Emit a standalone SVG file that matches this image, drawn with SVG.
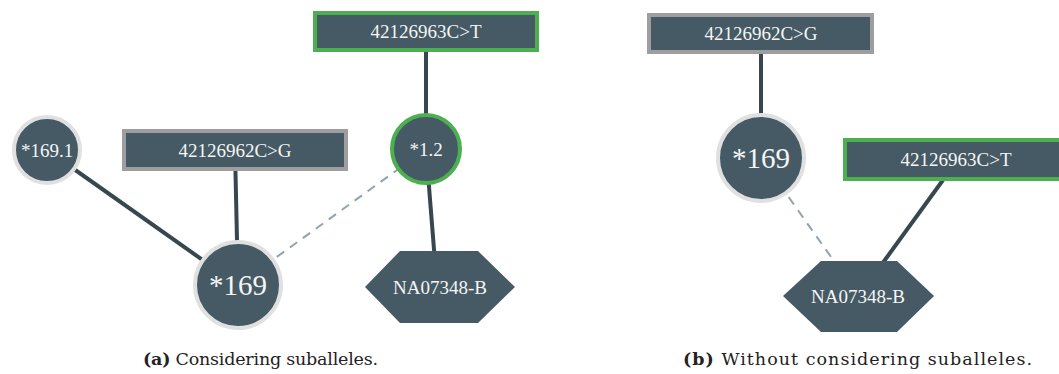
<svg xmlns="http://www.w3.org/2000/svg" width="1059" height="374" viewBox="0 0 1059 374">
<style>
.n{fill:#455a64}
.rg{stroke:#9e9e9e;stroke-width:4}
.gr{stroke:#4caf50;stroke-width:4}
.cg{stroke:#e0e0e0;stroke-width:4}
.t{fill:#f5f5f5;font-family:'Liberation Serif','Times New Roman',Times,serif;font-size:19px;text-anchor:middle;dominant-baseline:central}
.big{font-size:29px}
.e{stroke:#37474f;stroke-width:4;fill:none}
.d{stroke:#90a4ae;stroke-width:2;stroke-dasharray:9,7;fill:none}
.cap{font-family:'DejaVu Serif',serif;font-size:17.5px;fill:#222;text-anchor:middle}
</style>
<rect width="1059" height="374" fill="#fff"/>
<g id="connectors">
<line class="e" x1="47" y1="150" x2="238" y2="285"/>
<line class="e" x1="235" y1="150" x2="238" y2="285"/>
<line class="d" x1="238" y1="285" x2="426" y2="149"/>
<line class="e" x1="426" y1="31" x2="426" y2="149"/>
<line class="e" x1="426" y1="149" x2="437" y2="287"/>
<line class="e" x1="761" y1="33" x2="761" y2="158"/>
<line class="d" x1="761" y1="158" x2="836" y2="264"/>
<line class="e" x1="943" y1="180" x2="882" y2="264"/>
</g>
<g id="a_1691"><circle class="n cg" cx="47" cy="150" r="33"/><text class="t" x="47" y="150" font-size="18">*169.1</text></g>
<g id="a_var962"><rect class="n rg" x="124" y="131" width="222" height="38"/><text class="t" x="235" y="150">42126962C&gt;G</text></g>
<g id="a_169"><circle class="n cg" cx="238" cy="285" r="43"/><text class="t big" x="238" y="285">*169</text></g>
<g id="a_12"><circle class="n gr" cx="426" cy="149" r="34"/><text class="t" x="426" y="149">*1.2</text></g>
<g id="a_var963"><rect class="n gr" x="315" y="13" width="222" height="37"/><text class="t" x="426" y="31">42126963C&gt;T</text></g>
<g id="a_hex"><polygon class="n" points="365,287 400,251 478,251 515,287 478,323 400,323"/><text class="t" x="440" y="287">NA07348-B</text></g>
<g id="b_var962"><rect class="n rg" x="649" y="15" width="223" height="37"/><text class="t" x="761" y="33">42126962C&gt;G</text></g>
<g id="b_169"><circle class="n cg" cx="761" cy="158" r="43"/><text class="t big" x="761" y="158">*169</text></g>
<g id="b_var963"><rect class="n gr" x="845" y="140" width="222" height="39"/><text class="t" x="956" y="159">42126963C&gt;T</text></g>
<g id="b_hex"><polygon class="n" points="783,296 821,261 897,261 934,296 897,332 821,332"/><text class="t" x="858" y="296">NA07348-B</text></g>
<text class="cap" x="260.5" y="365" textLength="235"><tspan font-weight="bold">(a)</tspan> Considering suballeles.</text>
<text class="cap" x="857.5" y="365" textLength="349"><tspan font-weight="bold">(b)</tspan> Without considering suballeles.</text>
</svg>
